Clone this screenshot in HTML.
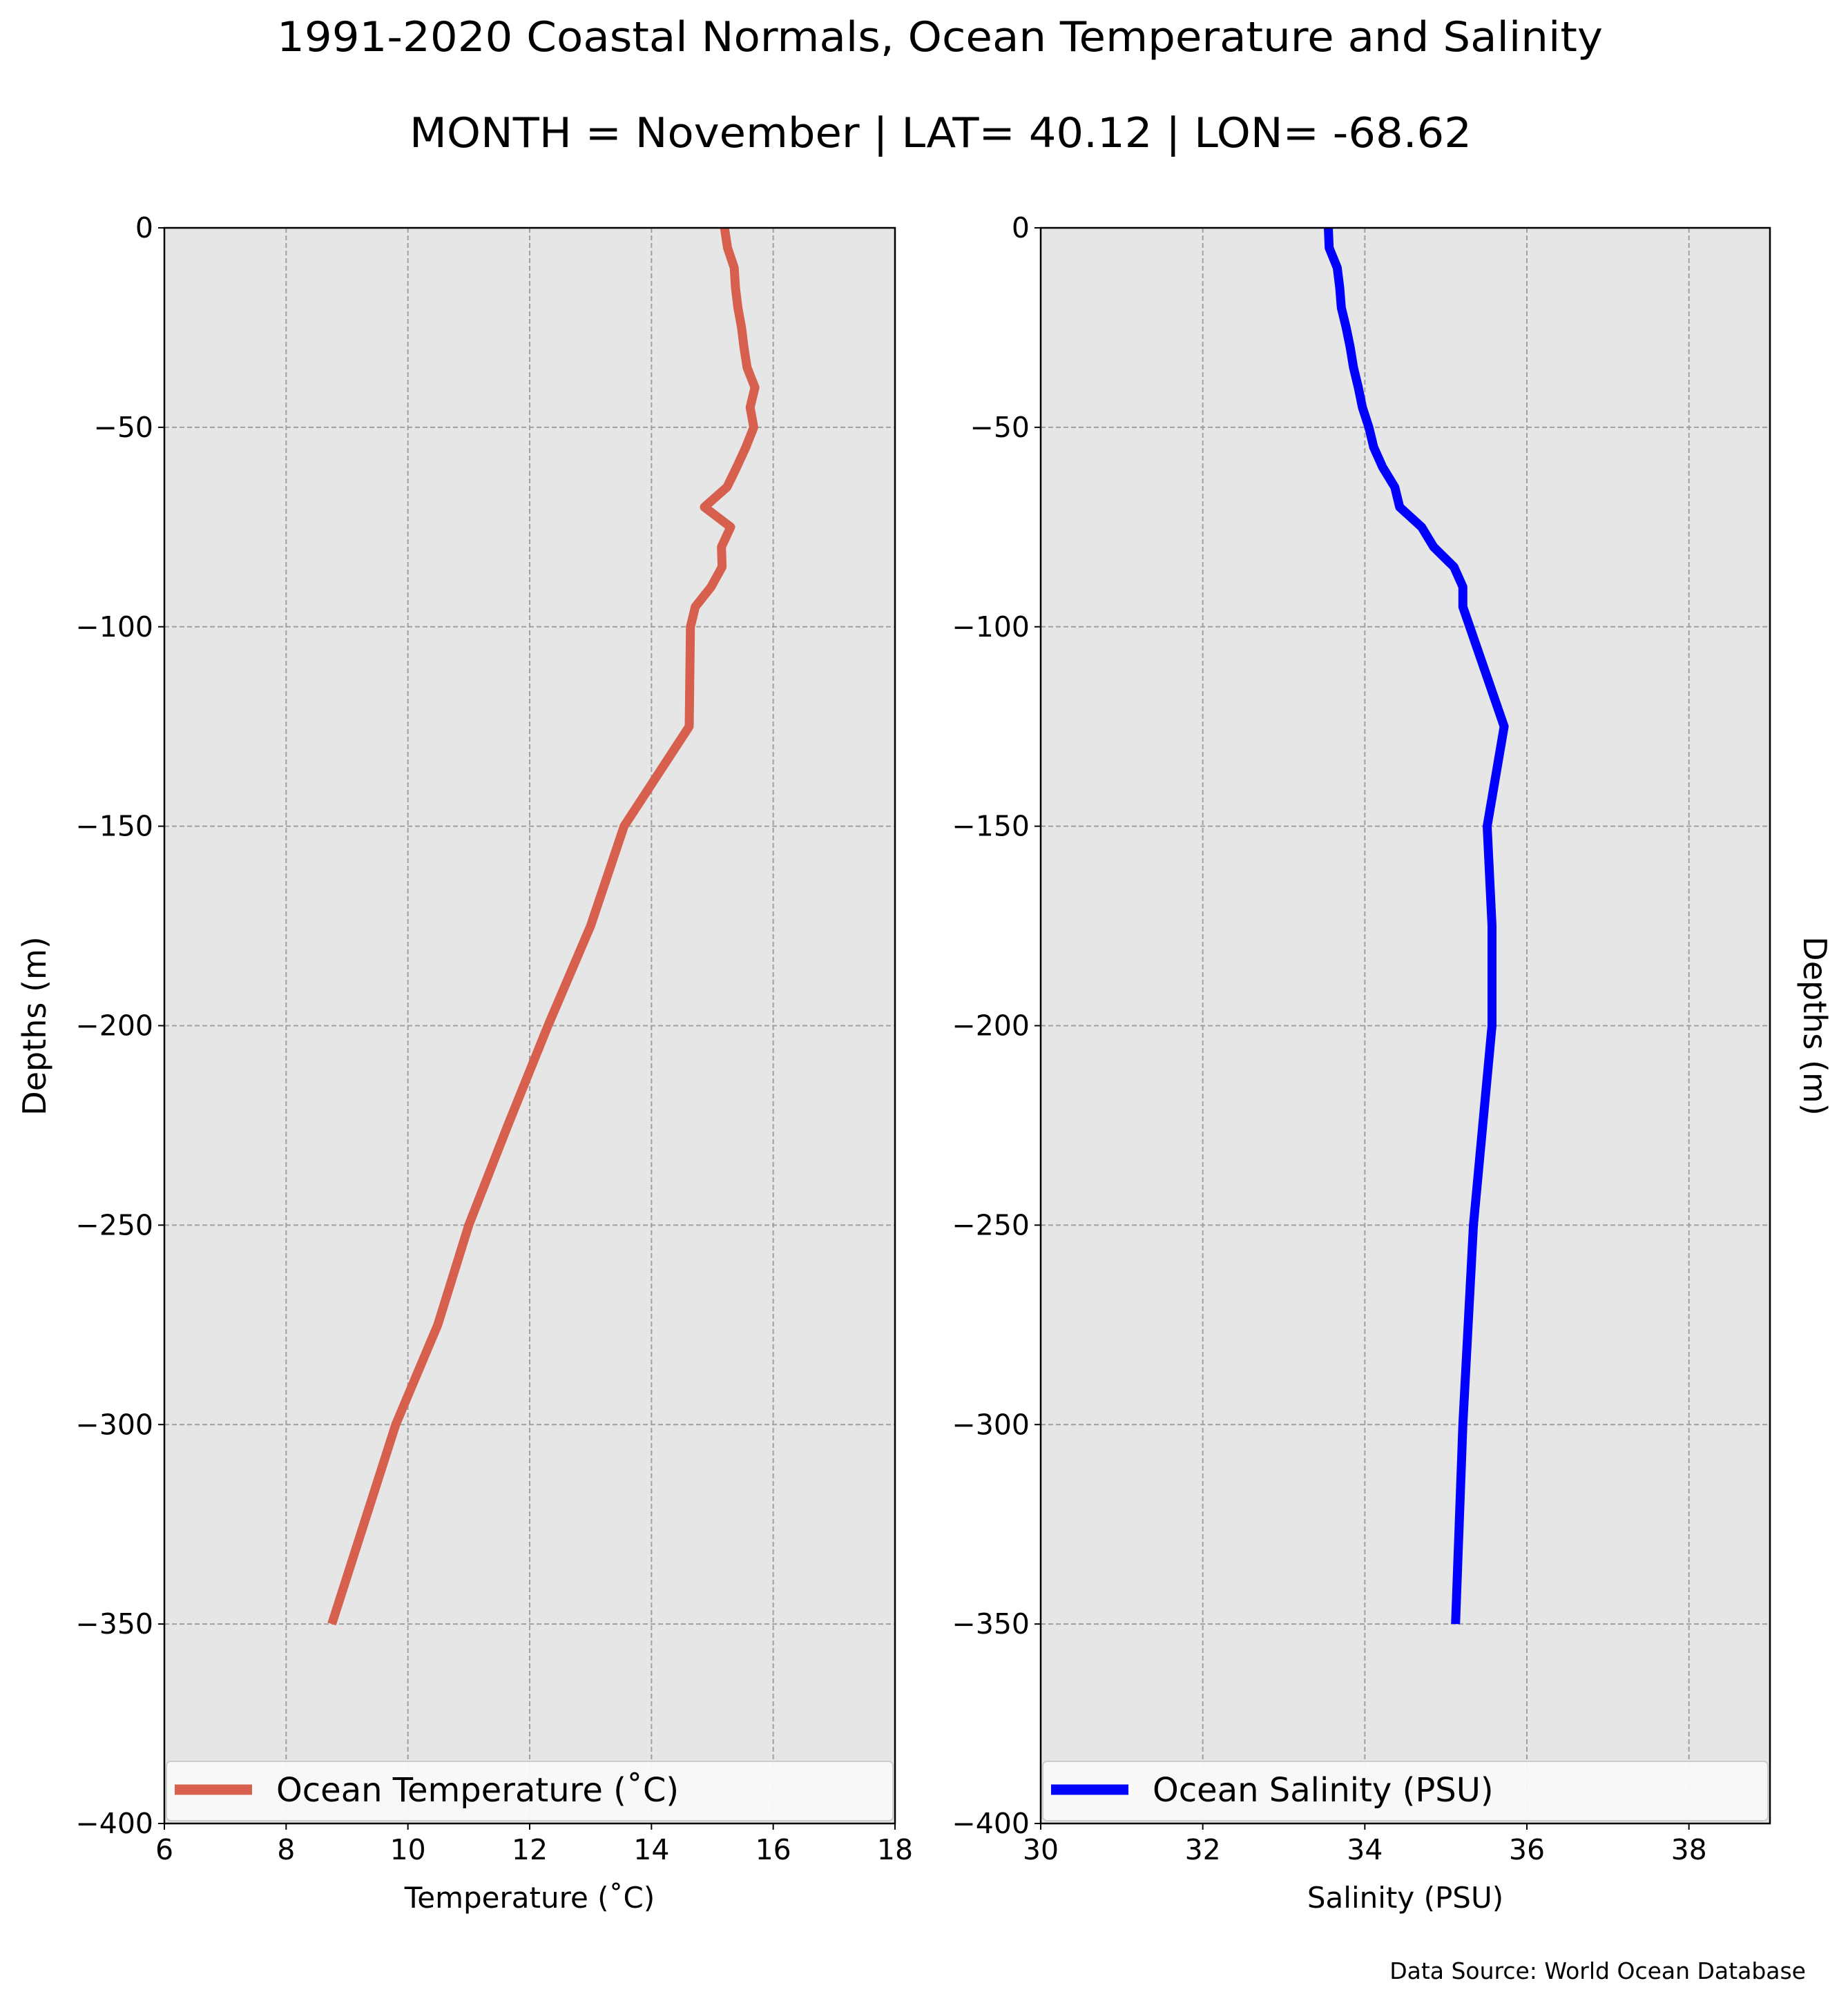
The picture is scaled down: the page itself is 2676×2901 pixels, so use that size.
<!DOCTYPE html>
<html><head><meta charset="utf-8"><style>
html,body{margin:0;padding:0;background:#fff;}
svg{display:block;font-family:"DejaVu Sans","Liberation Sans",sans-serif;}
</style></head><body>
<svg id="fig" width="2676" height="2901" viewBox="0 0 2676 2901" xmlns="http://www.w3.org/2000/svg">
<rect width="2676" height="2901" fill="#fff"/>
<text x="1361" y="74" font-size="60" text-anchor="middle" textLength="1920" lengthAdjust="spacingAndGlyphs">1991-2020 Coastal Normals, Ocean Temperature and Salinity</text>
<text x="1362" y="213" font-size="60" text-anchor="middle" textLength="1538" lengthAdjust="spacingAndGlyphs">MONTH = November | LAT= 40.12 | LON= -68.62</text>
<g id="left"></g>
<g id="right"></g>
<text transform="translate(66,1486) rotate(-90)" font-size="46" text-anchor="middle">Depths (m)</text>
<text transform="translate(2612,1486) rotate(90)" font-size="46" text-anchor="middle">Depths (m)</text>
<text x="2615" y="2866" font-size="33" text-anchor="end">Data Source: World Ocean Database</text>
</svg>
<script>
const depths = [0,-5,-10,-15,-20,-25,-30,-35,-40,-45,-50,-55,-60,-65,-70,-75,-80,-85,-90,-95,-100,-125,-150,-175,-200,-225,-250,-275,-300,-350];
const temperature = [15.2,15.25,15.36,15.38,15.42,15.48,15.52,15.57,15.7,15.62,15.68,15.55,15.4,15.24,14.87,15.3,15.15,15.16,14.98,14.72,14.64,14.62,13.55,13.0,12.3,11.64,11.0,10.49,9.8,8.75];
const salDepths = [0,-5,-10,-15,-20,-25,-30,-35,-40,-45,-50,-55,-60,-65,-70,-75,-80,-85,-90,-95,-125,-150,-175,-200,-250,-300,-350];
const salinity = [33.55,33.56,33.66,33.69,33.71,33.77,33.82,33.86,33.92,33.97,34.05,34.11,34.22,34.37,34.43,34.70,34.85,35.10,35.21,35.21,35.72,35.51,35.57,35.57,35.34,35.21,35.12];
const yTicks = [0,-50,-100,-150,-200,-250,-300,-350,-400];
const tempTicks = [6,8,10,12,14,16,18];
const salTicks = [30,32,34,36,38];

const NS = "http://www.w3.org/2000/svg";
const TOP = 330, BOT = 2641;
function yScale(d){ return TOP + (0 - d) / 400 * (BOT - TOP); }
function mk(parent, tag, attrs){ const e = document.createElementNS(NS, tag); for (const k in attrs) e.setAttribute(k, attrs[k]); parent.appendChild(e); return e; }

function panel(gid, x0, x1, xmin, xmax, xticks, ds, vs, color, xlabel, legendLabel, key){
  const g = document.getElementById(gid);
  const xs = v => x0 + (v - xmin) / (xmax - xmin) * (x1 - x0);
  const bg = mk(g, 'rect', {x:x0, y:TOP, width:x1-x0, height:BOT-TOP, fill:'#e6e6e6'});
  
  
  yTicks.forEach(t => {
    const y = yScale(t);
    if (t !== 0 && t !== -400) {
      const gl = mk(g, 'line', {x1:x0, x2:x1, y1:y, y2:y, stroke:'#a0a0a0', 'stroke-width':2, 'stroke-dasharray':'7,4'});
      
      
    }
    mk(g, 'line', {x1:x0-9, x2:x0, y1:y, y2:y, stroke:'#000', 'stroke-width':2});
    const tl = mk(g, 'text', {x:x0-16, y:y+14, 'font-size':41, 'text-anchor':'end'});
    tl.textContent = t < 0 ? '\u2212' + Math.abs(t) : String(t);
    
    
  });
  xticks.forEach(t => {
    const x = xs(t);
    if (t !== xmin && t !== xmax) {
      const gl = mk(g, 'line', {x1:x, x2:x, y1:TOP, y2:BOT, stroke:'#a0a0a0', 'stroke-width':2, 'stroke-dasharray':'7,4'});
      
      
    }
    mk(g, 'line', {x1:x, x2:x, y1:BOT, y2:BOT+9, stroke:'#000', 'stroke-width':2});
    const tl = mk(g, 'text', {x:x, y:BOT+52, 'font-size':41, 'text-anchor':'middle'});
    tl.textContent = String(t);
    
    
  });
  const pts = ds.map((d, i) => xs(vs[i]).toFixed(1) + ',' + yScale(d).toFixed(1)).join(' ');
  const line = mk(g, 'polyline', {points:pts, fill:'none', stroke:color, 'stroke-width':13, 'stroke-linejoin':'round'});
  
  
  const lg = mk(g, 'rect', {x:x0+3, y:2551, width:x1-x0-6, height:86, rx:6, fill:'#f9f9f9', 'fill-opacity':0.95, stroke:'#cccccc', 'stroke-width':2});
  
  
  mk(g, 'line', {x1:x0+15, x2:x0+127, y1:2592, y2:2592, stroke:color, 'stroke-width':15});
  const lt = mk(g, 'text', {x:x0+162, y:2609, 'font-size':48});
  lt.textContent = legendLabel;
  
  
  mk(g, 'rect', {x:x0, y:TOP, width:x1-x0, height:BOT-TOP, fill:'none', stroke:'#000', 'stroke-width':2.5});
  const xl = mk(g, 'text', {x:(x0+x1)/2, y:2763, 'font-size':42, 'text-anchor':'middle'});
  xl.textContent = xlabel;
  
  
}
panel('left', 238, 1296, 6, 18, tempTicks, depths, temperature, '#d6604d', 'Temperature (\u02daC)', 'Ocean Temperature (\u02daC)', 'temperature');
panel('right', 1507, 2563, 30, 39, salTicks, salDepths, salinity, '#0000ff', 'Salinity (PSU)', 'Ocean Salinity (PSU)', 'salinity');
</script>
</body></html>
